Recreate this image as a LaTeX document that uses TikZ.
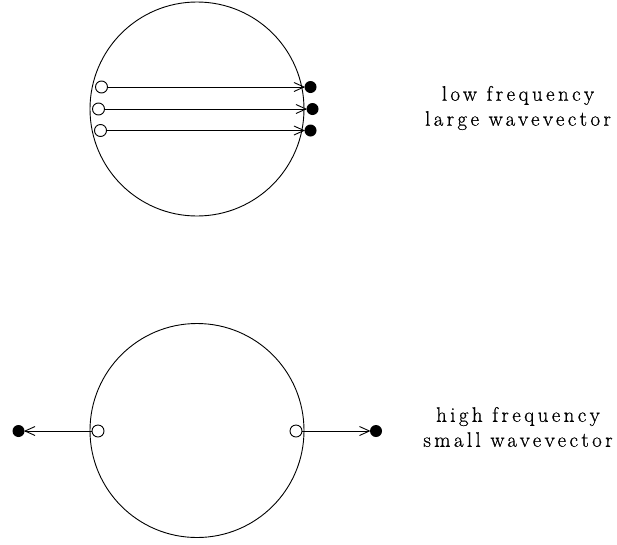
\documentclass[tikz,border=0pt]{standalone}
\usepackage{fontspec}
\setmainfont{Latin Modern Roman}[LetterSpace=16,FakeBold=0.6]
\usetikzlibrary{arrows.meta}
\begin{document}
\begin{tikzpicture}[x=1pt,y=-1pt,line width=0.9pt,
  opendot/.style={circle,draw,inner sep=0pt,minimum size=12pt,fill=white},
  fulldot/.style={circle,fill,inner sep=0pt,minimum size=12pt},
  arr/.style={-{Straight Barb[length=10pt,width=9pt,line width=0.9pt]},shorten >=-1pt},
  lbl/.style={font=\fontsize{21}{25}\selectfont,align=center}]
\useasboundingbox (0,0) rectangle (617,544);
\node[circle,draw,minimum size=214pt,inner sep=0pt] (c1) at (197,109) {};
\node[circle,draw,minimum size=214pt,inner sep=0pt] (c2) at (197,430.5) {};
% top
\node[opendot] (o1) at (101.5,87) {};
\node[opendot] (o2) at (98.5,109) {};
\node[opendot] (o3) at (100.5,130.5) {};
\node[fulldot] (f1) at (310.5,87) {};
\node[fulldot] (f2) at (312.5,109) {};
\node[fulldot] (f3) at (310.5,130.5) {};
\draw[arr] (o1) -- (f1);
\draw[arr] (o2) -- (f2);
\draw[arr] (o3) -- (f3);
% bottom
\node[opendot] (o4) at (98,431) {};
\node[opendot] (o5) at (296,431) {};
\node[fulldot] (f4) at (18.5,431) {};
\node[fulldot] (f5) at (376,431) {};
\draw[arr] (o4) -- (f4);
\draw[arr] (o5) -- (f5);
\node[lbl] (t1) at (518,108) {low frequency\\large wavevector};
\node[lbl] (t2) at (518,427) {high frequency\\small wavevector};
\end{tikzpicture}
\end{document}
